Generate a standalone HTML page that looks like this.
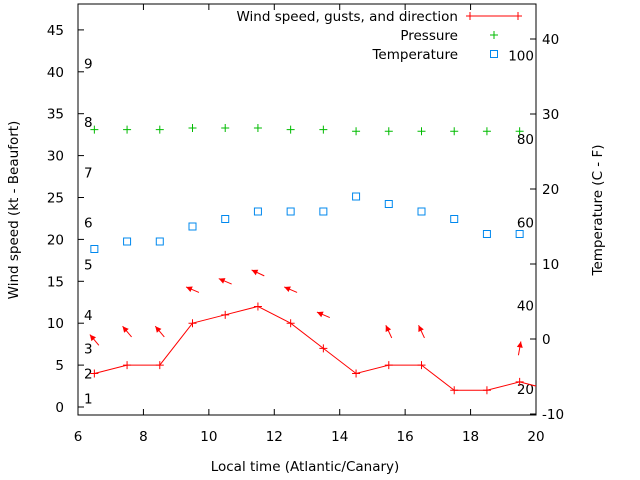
<!DOCTYPE html>
<html><head><meta charset="utf-8"><style>body{margin:0;background:#fff}svg{display:block;font-family:"DejaVu Sans","Liberation Sans",sans-serif;font-size:13.5px}</style></head>
<body>
<svg id="c" width="640" height="480"></svg>
<script>
const hours=[6.5,7.5,8.5,9.5,10.5,11.5,12.5,13.5,14.5,15.5,16.5,17.5,18.5,19.5,20.5];
const wind=[4,5,5,10,11,12,10,7,4,5,5,2,2,3,2];
const pressure=[33.1,33.1,33.1,33.3,33.3,33.3,33.1,33.1,32.9,32.9,32.9,32.9,32.9,32.9];
const temp=[12,13,13,15,16,17,17,17,19,18,17,16,14,14];
const arrowHours=[6.5,7.5,8.5,9.5,10.5,11.5,12.5,13.5,15.5,16.5,19.5];
const arrowSpeed=[4,5,5,10,11,12,10,7,5,5,3];
const arrowDir=[130,130,130,157,157,155,157,157,115,115,80];
const xTicks=[6,8,10,12,14,16,18,20];
const yTicks=[0,5,10,15,20,25,30,35,40,45];
const y2Ticks=[-10,0,10,20,30,40];
const beaufort=[1,4,7,11,17,22,28,34,41];
const fahr=[20,40,60,80,100];
const L=78,R=536,T=4,B=415;
const X=v=>L+(v-6)*(R-L)/14;
const Y=v=>407-v*8.38;
const Y2=v=>339-v*7.5;
const svg=document.getElementById('c');const NS='http://www.w3.org/2000/svg';
function mk(t,a,p){const e=document.createElementNS(NS,t);for(const k in a)e.setAttribute(k,a[k]);(p||svg).appendChild(e);return e;}
const defs=mk('defs',{});const cp=mk('clipPath',{id:'cp'},defs);mk('rect',{x:L,y:T,width:R-L,height:B-T},cp);
const frame=mk('rect',{x:L,y:T,width:R-L,height:B-T,fill:'none',stroke:'#000'});

xTicks.forEach(v=>{mk('line',{x1:X(v),x2:X(v),y1:B,y2:B-6,stroke:'#000'});mk('line',{x1:X(v),x2:X(v),y1:T,y2:T+6,stroke:'#000'});
const t=mk('text',{x:X(v),y:441,'text-anchor':'middle'});t.textContent=v;
});
yTicks.forEach(v=>{mk('line',{x1:L,x2:L+6,y1:Y(v),y2:Y(v),stroke:'#000'});
const t=mk('text',{x:64,y:Y(v)+5,'text-anchor':'end'});t.textContent=v;
});
y2Ticks.forEach(v=>{mk('line',{x1:R,x2:R-6,y1:Y2(v),y2:Y2(v),stroke:'#000'});
const t=mk('text',{x:542,y:Y2(v)+5});t.textContent=v;
});
beaufort.forEach((v,i)=>{const t=mk('text',{x:84,y:Y(v)+5});t.textContent=i+1;
});
fahr.forEach(v=>{const t=mk('text',{x:534,y:Y2((v-32)*5/9)+5,'text-anchor':'end'});t.textContent=v;
});
const g=mk('g',{'clip-path':'url(#cp)'});
const line=mk('polyline',{points:hours.map((h,i)=>X(h)+','+Y(wind[i])).join(' '),fill:'none',stroke:'#f00'},g);

function plus(x,y,c,p){mk('path',{d:`M${x-4},${y}h8M${x},${y-4}v8`,stroke:c,fill:'none'},p);}
hours.forEach((h,i)=>plus(X(h),Y(wind[i]),'#f00',g));
pressure.forEach((p,i)=>{const e=mk('g',{});plus(X(hours[i]),Y(p),'#0b0',e);});
temp.forEach((v,i)=>{const r=mk('rect',{x:X(hours[i])-3.5,y:Y2(v)-3.5,width:7,height:7,fill:'none',stroke:'#08e'});
});
arrowHours.forEach((h,i)=>{const cx=X(h),cy=Y(arrowSpeed[i]+4);const a=arrowDir[i]*Math.PI/180;
const dx=Math.cos(a)*7,dy=-Math.sin(a)*7;const hx=cx+dx,hy=cy+dy;
const e=mk('g',{});
mk('line',{x1:cx-dx,y1:cy-dy,x2:hx,y2:hy,stroke:'#f00'},e);
const ux=dx/7,uy=dy/7,px=-uy,py=ux;
mk('polygon',{points:`${hx},${hy} ${hx-ux*6+px*3},${hy-uy*6+py*3} ${hx-ux*6-px*3},${hy-uy*6-py*3}`,fill:'#f00'},e);});
const leg=[['Wind speed, gusts, and direction',16],['Pressure',35],['Temperature',54]];
leg.forEach((l,i)=>{const t=mk('text',{x:458,y:l[1]+5,'text-anchor':'end'});t.textContent=l[0];
});
mk('line',{x1:470,x2:518,y1:16,y2:16,stroke:'#f00'});plus(470,16,'#f00');plus(518,16,'#f00');
plus(494,35,'#0b0');mk('rect',{x:490.5,y:50.5,width:7,height:7,fill:'none',stroke:'#08e'});
const a1=mk('text',{x:0,y:0,transform:'translate(18,210) rotate(-90)','text-anchor':'middle'});a1.textContent='Wind speed (kt - Beaufort)';

const a2=mk('text',{x:0,y:0,transform:'translate(602,210) rotate(-90)','text-anchor':'middle'});a2.textContent='Temperature (C - F)';

const a3=mk('text',{x:305,y:471,'text-anchor':'middle'});a3.textContent='Local time (Atlantic/Canary)';

</script>
</body></html>
